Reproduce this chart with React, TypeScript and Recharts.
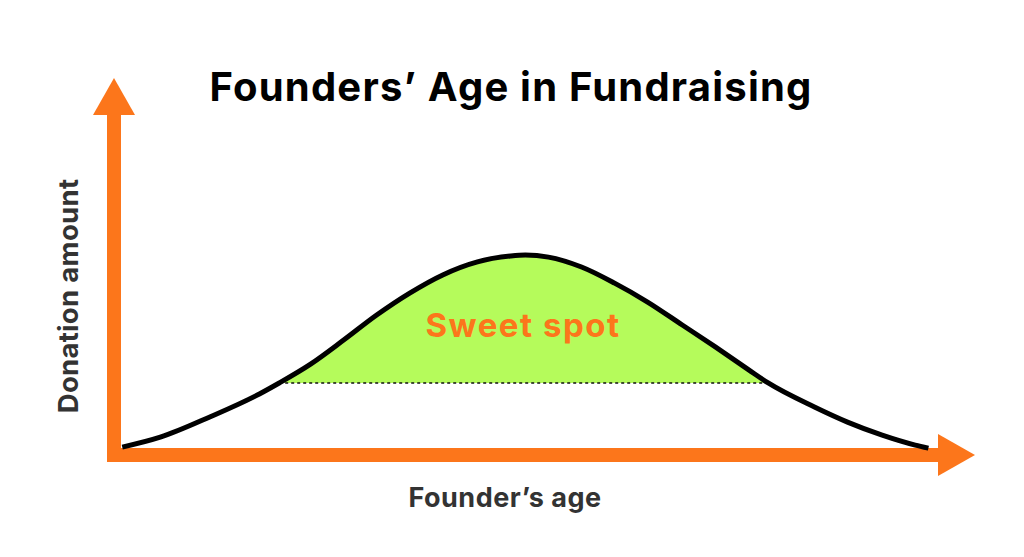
import React from 'react';
import {
  ComposedChart,
  Area,
  Line,
  XAxis,
  YAxis,
  ReferenceLine,
  ReferenceDot,
} from 'recharts';

// founder age (years) and relative donation amount
const ages = [
  20.5, 22.8, 25.8, 28.8, 30.0, 31.9, 33.9, 35.9, 37.9, 39.9, 42.0, 44.0, 44.9,
  46.3, 48.3, 50.3, 52.3, 54.4, 56.4, 58.4, 59.6, 62.4, 64.4, 66.5, 68.5, 69.3,
];
const amounts = [
  2.3, 5.2, 11.1, 17.8, 21.0, 26.5, 33.5, 40.8, 47.2, 52.5, 56.3, 58.0, 58.3,
  57.7, 54.8, 50.1, 44.6, 37.9, 31.5, 24.9, 21.0, 14.0, 9.6, 5.8, 2.9, 2.0,
];
const sweetFrom = 30.0;
const sweetTo = 59.6;
const sweetFloor = 21.0;

const ORANGE = '#fc761b';
const GREEN = '#b5fb5b';

const data = ages.map((age, i) => ({
  age,
  amount: amounts[i],
  sweet: age >= sweetFrom && age <= sweetTo ? amounts[i] : null,
}));

function UpArrow(props: any) {
  const { cx, cy } = props;
  return (
    <polygon
      points={`${cx - 21},${cy + 3} ${cx + 21},${cy + 3} ${cx},${cy - 34}`}
      fill={ORANGE}
    />
  );
}

function RightArrow(props: any) {
  const { cx, cy } = props;
  return (
    <polygon
      points={`${cx - 2},${cy - 21} ${cx - 2},${cy + 21} ${cx + 35},${cy}`}
      fill={ORANGE}
    />
  );
}

export default function App() {
  const font = 'Inter, Roboto, "Liberation Sans", Arial, sans-serif';
  return (
    <div style={{ position: 'absolute', left: 0, top: 0, width: 1024, height: 557, background: '#fff' }}>
      <ComposedChart
        width={1024}
        height={557}
        data={data}
        margin={{ top: 112, right: 84, bottom: 102, left: 114 }}
      >
        <XAxis type="number" dataKey="age" domain={[20, 70]} hide />
        <YAxis type="number" domain={[0, 100]} hide />
        <Area
          type="monotone"
          dataKey="sweet"
          baseValue={sweetFloor}
          stroke="none"
          fill={GREEN}
          fillOpacity={1}
          isAnimationActive={false}
        />
        <ReferenceLine
          segment={[
            { x: sweetFrom, y: sweetFloor },
            { x: sweetTo, y: sweetFloor },
          ]}
          stroke="#111"
          strokeWidth={1.5}
          strokeDasharray="3 3"
        />
        <ReferenceLine x={20} stroke={ORANGE} strokeWidth={14} strokeLinecap="square" />
        <ReferenceLine y={0} stroke={ORANGE} strokeWidth={14} strokeLinecap="square" />
        <Line
          type="monotone"
          dataKey="amount"
          stroke="#000"
          strokeWidth={5}
          dot={false}
          activeDot={false}
          isAnimationActive={false}
        />
        <ReferenceDot x={20} y={100} r={0} shape={UpArrow} ifOverflow="visible" />
        <ReferenceDot x={70} y={0} r={0} shape={RightArrow} ifOverflow="visible" />
      </ComposedChart>
      <svg
        width={1024}
        height={557}
        style={{ position: 'absolute', left: 0, top: 0, pointerEvents: 'none' }}
      >
        <text x={511} y={101} textAnchor="middle" fontFamily={font} fontWeight={700} fontSize={40} letterSpacing={1.2} fill="#000">
          Founders’ Age in Fundraising
        </text>
        <text x={523} y={337} textAnchor="middle" fontFamily={font} fontWeight={700} fontSize={33} letterSpacing={1.5} fill={ORANGE}>
          Sweet spot
        </text>
        <text x={505} y={507} textAnchor="middle" fontFamily={font} fontWeight={700} fontSize={27} letterSpacing={0.5} fill="#333">
          Founder’s age
        </text>
        <text
          x={78}
          y={296}
          transform="rotate(-90 78 296)"
          textAnchor="middle"
          fontFamily={font}
          fontWeight={700}
          fontSize={27.5}
          letterSpacing={0.3}
          fill="#333"
        >
          Donation amount
        </text>
      </svg>
    </div>
  );
}
